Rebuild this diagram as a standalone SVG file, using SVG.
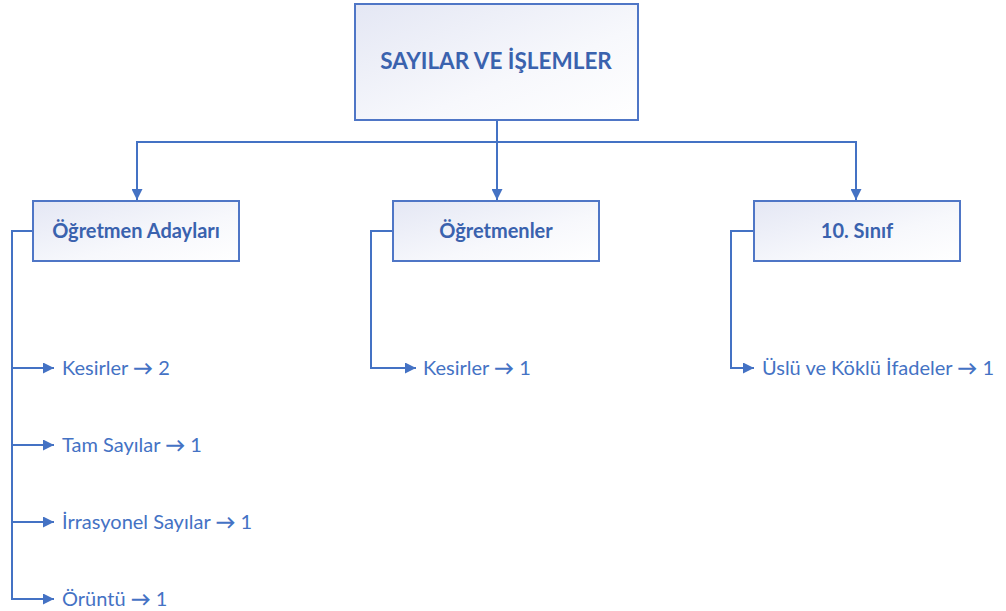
<svg xmlns="http://www.w3.org/2000/svg" width="1006" height="611" viewBox="0 0 1006 611">
<defs>
<linearGradient id="g" x1="0" y1="0" x2="1" y2="1">
<stop offset="0" stop-color="#e4e7f4"/>
<stop offset="0.6" stop-color="#f7f8fc"/>
<stop offset="1" stop-color="#ffffff"/>
</linearGradient>
<marker id="ah" viewBox="0 0 10 10" refX="10" refY="5" markerWidth="11" markerHeight="11" markerUnits="userSpaceOnUse" orient="auto">
<path d="M0,0 L10,5 L0,10 z" fill="#4472c4"/>
</marker>
<style>
.box{fill:url(#g);stroke:#4f76c6;stroke-width:2}
.bt{font-family:Lato,"Open Sans",sans-serif;font-weight:bold;fill:#3a62ae;text-anchor:middle}
.lt{font-family:Lato,"Open Sans",sans-serif;fill:#4472c4;font-size:20px}
.ar{font-weight:bold}
.ln{fill:none;stroke:#4472c4;stroke-width:2}
</style>
</defs>
<rect width="1006" height="611" fill="#ffffff"/>
<g id="connectors">
<path class="ln" d="M497,121 V200" marker-end="url(#ah)"/>
<path class="ln" d="M137,200 V142 H856 V200"/>
<path class="ln" d="M137,142 V200" marker-end="url(#ah)"/>
<path class="ln" d="M856,142 V200" marker-end="url(#ah)"/>
<path class="ln" d="M33,231 H12 V600"/>
<path class="ln" d="M12,368 H54" marker-end="url(#ah)"/>
<path class="ln" d="M12,445 H54" marker-end="url(#ah)"/>
<path class="ln" d="M12,522 H54" marker-end="url(#ah)"/>
<path class="ln" d="M12,599 H54" marker-end="url(#ah)"/>
<path class="ln" d="M393,231 H371 V368 H416" marker-end="url(#ah)"/>
<path class="ln" d="M754,231 H731 V368 H754" marker-end="url(#ah)"/>
</g>
<g id="root">
<rect class="box" x="355" y="4" width="283" height="116"/>
<text class="bt" x="496" y="69" font-size="22.5">SAYILAR VE İŞLEMLER</text>
</g>
<g id="ogretmen-adaylari">
<rect class="box" x="33" y="201" width="206" height="60"/>
<text class="bt" x="136" y="238" font-size="20">Öğretmen Adayları</text>
</g>
<g id="ogretmenler">
<rect class="box" x="393" y="201" width="206" height="60"/>
<text class="bt" x="496" y="238" font-size="20">Öğretmenler</text>
</g>
<g id="sinif10">
<rect class="box" x="754" y="201" width="206" height="60"/>
<text class="bt" x="857" y="238" font-size="20">10. Sınıf</text>
</g>
<g id="items">
<text class="lt" x="62" y="375">Kesirler <tspan class="ar">→</tspan> 2</text>
<text class="lt" x="62" y="452">Tam Sayılar <tspan class="ar">→</tspan> 1</text>
<text class="lt" x="62" y="529">İrrasyonel Sayılar <tspan class="ar">→</tspan> 1</text>
<text class="lt" x="62" y="606">Örüntü <tspan class="ar">→</tspan> 1</text>
<text class="lt" x="423" y="375">Kesirler <tspan class="ar">→</tspan> 1</text>
<text class="lt" x="762" y="375">Üslü ve Köklü İfadeler <tspan class="ar">→</tspan> 1</text>
</g>
</svg>
